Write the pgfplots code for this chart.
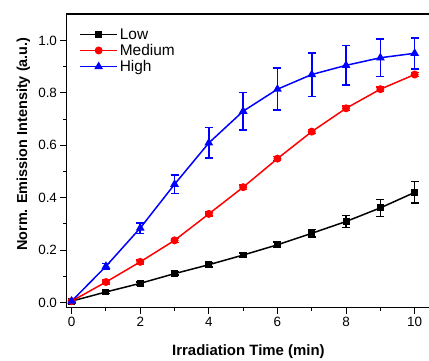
\documentclass[border=0pt]{standalone}
\usepackage{pgfplots}
\pgfplotsset{compat=1.18}
\usepackage{fontspec}
\setmainfont{Liberation Sans}
\begin{document}
\begin{tikzpicture}
\useasboundingbox (0,0) rectangle (429bp,361bp);
\begin{axis}[
  at={(66.5bp,53.3bp)}, anchor=south west,
  scale only axis, width=365.3bp, height=293.7bp,
  xmin=-0.15, xmax=10.5, ymin=-0.02, ymax=1.101,
  xtick={0,2,4,6,8,10}, ytick={0,0.2,0.4,0.6,0.8,1.0},
  minor xtick={1,3,5,7,9}, minor ytick={0.1,0.3,0.5,0.7,0.9},
  xtick pos=bottom, ytick pos=left,
  tick align=outside,
  major tick length=6bp, minor tick length=3bp,
  tick style={black, line width=1bp},
  axis line style={line width=1.5bp},
  /pgf/number format/assume math mode=true,
  yticklabel style={/pgf/number format/fixed, /pgf/number format/fixed zerofill, /pgf/number format/precision=1},
  ticklabel style={font=\fontsize{13.5}{16}\selectfont},
  xlabel={Irradiation Time (min)},
  ylabel={Norm. Emission Intensity (a.u.)},
  xlabel style={font=\bfseries\fontsize{15}{18}\selectfont, at={(axis description cs:0.498,-0.164)}, anchor=base},
  ylabel style={font=\bfseries\fontsize{14.5}{17}\selectfont, at={(axis description cs:-0.108,0.557)}, anchor=base},
  legend style={at={(0.035,0.958)}, anchor=north west, draw=none, fill=none,
     font=\fontsize{15.5}{18}\selectfont, row sep=-0.5bp, inner sep=0pt,
     /tikz/every even column/.append style={column sep=2bp}},
  legend cell align=left,
  legend image code/.code={\draw[mark repeat=2,mark phase=2] plot coordinates {(0cm,0cm) (0.65cm,0cm) (1.3cm,0cm)};},
  every axis plot/.append style={line width=1.5bp},
  error bars/error bar style={line width=1.5bp},
  error bars/error mark options={rotate=90, mark size=4bp, line width=1.5bp},
]
\addplot[black, mark=square*, mark size=2.7bp, mark options={solid},
  error bars/.cd, y dir=both, y explicit]
  coordinates {
  (0,0.005) +- (0,0.003)
  (1,0.040) +- (0,0.005)
  (2,0.073) +- (0,0.006)
  (3,0.110) +- (0,0.006)
  (4,0.144) +- (0,0.008)
  (5,0.181) +- (0,0.008)
  (6,0.220) +- (0,0.010)
  (7,0.264) +- (0,0.015)
  (8,0.309) +- (0,0.022)
  (9,0.361) +- (0,0.032)
  (10,0.420) +- (0,0.041)
  };
\addlegendentry{Low}
\addplot[red, mark=*, mark size=3.2bp, mark options={solid},
  error bars/.cd, y dir=both, y explicit]
  coordinates {
  (0,0.005) +- (0,0.003)
  (1,0.078) +- (0,0.007)
  (2,0.155) +- (0,0.008)
  (3,0.237) +- (0,0.008)
  (4,0.338) +- (0,0.008)
  (5,0.440) +- (0,0.008)
  (6,0.549) +- (0,0.008)
  (7,0.652) +- (0,0.008)
  (8,0.741) +- (0,0.008)
  (9,0.814) +- (0,0.008)
  (10,0.870) +- (0,0.008)
  };
\addlegendentry{Medium}
\addplot[blue, mark=triangle*, mark size=3.6bp, mark options={solid},
  error bars/.cd, y dir=both, y explicit]
  coordinates {
  (0,0.005) +- (0,0.008)
  (1,0.138) +- (0,0.010)
  (2,0.284) +- (0,0.020)
  (3,0.451) +- (0,0.035)
  (4,0.609) +- (0,0.058)
  (5,0.730) +- (0,0.072)
  (6,0.814) +- (0,0.080)
  (7,0.870) +- (0,0.083)
  (8,0.905) +- (0,0.075)
  (9,0.934) +- (0,0.071)
  (10,0.951) +- (0,0.059)
  };
\addlegendentry{High}
\end{axis}
\end{tikzpicture}
\end{document}
